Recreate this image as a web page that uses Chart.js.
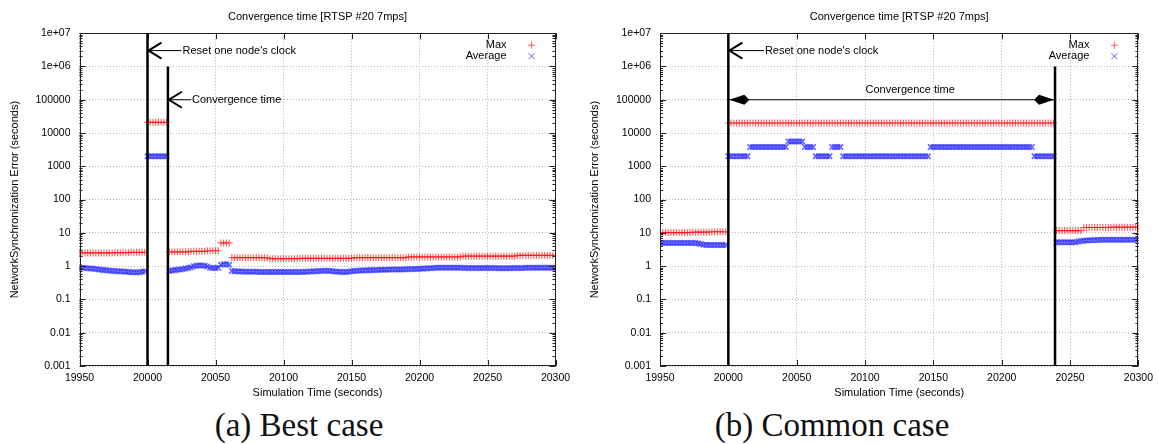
<!DOCTYPE html>
<html>
<head>
<meta charset="utf-8">
<script src="https://cdn.jsdelivr.net/npm/chart.js@4/dist/chart.umd.min.js"></script>
<style>
  body { margin: 0; background: #fff; width: 1159px; height: 444px; overflow: hidden; position: relative; }
  .panel { position: absolute; top: 0; height: 400px; }
  .caption { position: absolute; top: 407px; width: 320px; font-family: "Liberation Serif", serif; font-size: 33px; line-height: 1.15; text-align: center; color: #111; white-space: nowrap; }
</style>
</head>
<body>
<div class="panel" style="left:0;width:580px"><canvas id="bestChart"></canvas></div>
<div class="panel" style="left:580px;width:579px"><canvas id="commonChart"></canvas></div>
<div class="caption" style="left:139px">(a) Best case</div>
<div class="caption" style="left:672px">(b) Common case</div>
<script>
// sample times (s), one row = 50 s
const sampleTimes = [
  19950,19952,19954,19956,19958,19960,19962,19964,19966,19968,19970,19972,19974,19976,19978,19980,19982,19984,19986,19988,19990,19992,19994,19996,19998,
  20000,20002,20004,20006,20008,20010,20012,20014,20016,20018,20020,20022,20024,20026,20028,20030,20032,20034,20036,20038,20040,20042,20044,20046,20048,
  20050,20052,20054,20056,20058,20060,20062,20064,20066,20068,20070,20072,20074,20076,20078,20080,20082,20084,20086,20088,20090,20092,20094,20096,20098,
  20100,20102,20104,20106,20108,20110,20112,20114,20116,20118,20120,20122,20124,20126,20128,20130,20132,20134,20136,20138,20140,20142,20144,20146,20148,
  20150,20152,20154,20156,20158,20160,20162,20164,20166,20168,20170,20172,20174,20176,20178,20180,20182,20184,20186,20188,20190,20192,20194,20196,20198,
  20200,20202,20204,20206,20208,20210,20212,20214,20216,20218,20220,20222,20224,20226,20228,20230,20232,20234,20236,20238,20240,20242,20244,20246,20248,
  20250,20252,20254,20256,20258,20260,20262,20264,20266,20268,20270,20272,20274,20276,20278,20280,20282,20284,20286,20288,20290,20292,20294,20296,20298,
  20300
];

// (a) best case
const bestMax = [
  2.5,2.5,2.5,2.5,2.5,2.5,2.5,2.5,2.5,2.5,2.5,2.5,2.5,2.55,2.55,2.55,2.55,2.55,2.55,2.6,2.6,2.6,2.6,2.6,2.6,
  21000,21000,21000,21000,21000,21000,21000,21000,2.7,2.7,2.7,2.7,2.7,2.7,2.7,2.7,2.8,2.8,2.8,2.8,2.8,2.8,2.9,2.9,2.9,
  2.9,2.9,5,5,5,5,1.8,1.8,1.8,1.8,1.8,1.8,1.8,1.8,1.8,1.8,1.8,1.8,1.8,1.8,1.68,1.68,1.68,1.68,1.68,
  1.68,1.68,1.68,1.68,1.68,1.68,1.72,1.72,1.72,1.72,1.72,1.72,1.72,1.72,1.72,1.72,1.72,1.72,1.72,1.72,1.72,1.72,1.72,1.72,1.72,
  1.72,1.8,1.8,1.8,1.8,1.8,1.8,1.8,1.8,1.8,1.8,1.8,1.8,1.8,1.8,1.8,1.8,1.8,1.8,1.8,1.8,1.9,1.9,1.9,1.9,
  1.9,1.9,1.9,1.9,1.9,1.9,1.9,1.9,1.9,1.9,1.9,1.9,1.9,1.9,1.9,1.9,2.0,2.0,2.0,2.0,2.0,2.0,2.0,2.0,2.0,
  2.0,2.0,2.0,2.0,2.0,2.0,2.0,2.0,2.0,2.0,2.0,2.1,2.1,2.1,2.1,2.1,2.1,2.1,2.1,2.1,2.1,2.1,2.1,2.1,2.1,
  2.1
];
const bestAvg = [
  0.92,0.9,0.88,0.86,0.85,0.84,0.82,0.8,0.78,0.76,0.75,0.74,0.72,0.72,0.7,0.7,0.69,0.68,0.67,0.66,0.66,0.65,0.66,0.68,0.7,
  2000,2000,2000,2000,2000,2000,2000,2000,0.72,0.74,0.76,0.78,0.8,0.82,0.85,0.88,0.92,1.0,1.03,1.05,1.05,1.03,0.98,0.9,0.88,
  0.88,0.9,1.1,1.15,1.15,1.1,0.72,0.7,0.7,0.69,0.69,0.68,0.68,0.68,0.68,0.68,0.67,0.67,0.67,0.67,0.67,0.67,0.67,0.67,0.67,
  0.67,0.67,0.67,0.67,0.67,0.67,0.67,0.67,0.68,0.68,0.69,0.7,0.7,0.71,0.72,0.73,0.73,0.72,0.7,0.69,0.68,0.67,0.67,0.67,0.68,
  0.7,0.72,0.73,0.74,0.74,0.75,0.75,0.76,0.76,0.77,0.77,0.78,0.78,0.78,0.79,0.79,0.8,0.8,0.8,0.8,0.81,0.81,0.82,0.82,0.82,
  0.83,0.84,0.85,0.86,0.87,0.88,0.9,0.9,0.9,0.9,0.9,0.9,0.9,0.9,0.89,0.89,0.89,0.88,0.88,0.88,0.88,0.88,0.88,0.88,0.88,
  0.88,0.88,0.88,0.88,0.87,0.87,0.87,0.87,0.87,0.88,0.88,0.88,0.88,0.88,0.89,0.89,0.89,0.9,0.9,0.9,0.9,0.9,0.9,0.9,0.9,
  0.9
];

// (b) common case
const commonMax = [
  10.2,10.2,10.2,10.2,10.2,10.2,10.2,10.2,10.2,10.2,10.2,10.2,10.5,10.5,10.5,10.5,10.5,10.5,10.5,10.8,10.8,10.8,10.8,10.8,10.8,
  20000,20000,20000,20000,20000,20000,20000,20000,20000,20000,20000,20000,20000,20000,20000,20000,20000,20000,20000,20000,20000,20000,20000,20000,20000,
  20000,20000,20000,20000,20000,20000,20000,20000,20000,20000,20000,20000,20000,20000,20000,20000,20000,20000,20000,20000,20000,20000,20000,20000,20000,
  20000,20000,20000,20000,20000,20000,20000,20000,20000,20000,20000,20000,20000,20000,20000,20000,20000,20000,20000,20000,20000,20000,20000,20000,20000,
  20000,20000,20000,20000,20000,20000,20000,20000,20000,20000,20000,20000,20000,20000,20000,20000,20000,20000,20000,20000,20000,20000,20000,20000,20000,
  20000,20000,20000,20000,20000,20000,20000,20000,20000,20000,20000,20000,20000,20000,20000,20000,20000,20000,20000,20000,11.7,11.7,11.7,11.7,11.7,
  11.7,11.7,11.7,11.7,11.7,14.5,14.5,14.5,14.5,14.5,14.5,14.5,14.5,14.5,14.5,14.8,14.8,14.8,14.8,14.8,14.8,14.8,14.8,14.8,14.8,
  14.8
];
const commonAvg = [
  5.0,5.0,5.0,5.0,5.0,5.0,5.0,5.0,5.0,5.0,5.0,5.0,5.0,5.0,4.8,4.6,4.4,4.3,4.3,4.3,4.3,4.3,4.3,4.3,4.3,
  2000,2000,2000,2000,2000,2000,2000,2000,3800,3800,3800,3800,3800,3800,3800,3800,3800,3800,3800,3800,3800,3800,5600,5600,5600,
  5600,5600,5600,3800,3800,3800,3800,2000,2000,2000,2000,2000,2000,3800,3800,3800,3800,2000,2000,2000,2000,2000,2000,2000,2000,
  2000,2000,2000,2000,2000,2000,2000,2000,2000,2000,2000,2000,2000,2000,2000,2000,2000,2000,2000,2000,2000,2000,2000,2000,3800,
  3800,3800,3800,3800,3800,3800,3800,3800,3800,3800,3800,3800,3800,3800,3800,3800,3800,3800,3800,3800,3800,3800,3800,3800,3800,
  3800,3800,3800,3800,3800,3800,3800,3800,3800,3800,3800,3800,2000,2000,2000,2000,2000,2000,2000,2000,5.2,5.2,5.2,5.2,5.2,
  5.2,5.2,5.2,5.5,5.7,5.8,5.9,6.0,6.0,6.1,6.1,6.2,6.2,6.2,6.2,6.2,6.2,6.2,6.2,6.2,6.2,6.2,6.2,6.2,6.2,
  6.2
];

const xTickValues = [19950, 20000, 20050, 20100, 20150, 20200, 20250, 20300];
const yTickValues = [0.001, 0.01, 0.1, 1, 10, 100, 1000, 10000, 100000, 1e6, 1e7];
const yTickLabels = ['0.001', '0.01', '0.1', '1', '10', '100', '1000', '10000', '100000', '1e+06', '1e+07'];

const resetTime = 20000;
const bestConvergedTime = 20015;
const commonConvergedTime = 20239;

const FONT = '"Liberation Sans", Arial, sans-serif';
Chart.defaults.font.family = FONT;
Chart.defaults.color = '#000';

const MAX_COLOR = 'rgba(255,0,0,0.6)';
const AVG_COLOR = 'rgba(30,30,255,0.7)';

// gnuplot-ish frame, inward ticks, legend and the annotation lines/arrows
const gnuplotFrame = {
  id: 'gnuplotFrame',
  afterDatasetsDraw(chart, args, opts) {
    const { ctx, chartArea: a, scales: { x, y } } = chart;
    ctx.save();

    ctx.strokeStyle = '#222';
    ctx.lineWidth = 1;
    ctx.strokeRect(Math.round(a.left) + 0.5, Math.round(a.top) + 0.5, Math.round(a.width) - 1, Math.round(a.height) - 1);

    ctx.beginPath();
    xTickValues.forEach(v => {
      const px = Math.round(x.getPixelForValue(v)) + 0.5;
      ctx.moveTo(px, a.bottom); ctx.lineTo(px, a.bottom - 6);
      ctx.moveTo(px, a.top); ctx.lineTo(px, a.top + 6);
    });
    yTickValues.forEach((v, i) => {
      const py = Math.round(y.getPixelForValue(v)) + 0.5;
      ctx.moveTo(a.left, py); ctx.lineTo(a.left + 6, py);
      ctx.moveTo(a.right, py); ctx.lineTo(a.right - 6, py);
      if (i < yTickValues.length - 1) {
        for (let m = 2; m <= 9; m++) {
          const pm = Math.round(y.getPixelForValue(v * m)) + 0.5;
          ctx.moveTo(a.left, pm); ctx.lineTo(a.left + 3, pm);
          ctx.moveTo(a.right, pm); ctx.lineTo(a.right - 3, pm);
        }
      }
    });
    ctx.stroke();

    // legend
    ctx.font = '11px ' + FONT;
    ctx.fillStyle = '#000';
    ctx.textAlign = 'right';
    ctx.textBaseline = 'middle';
    const lx = a.right - 49, mx = a.right - 24;
    ctx.fillText('Max', lx, a.top + 12);
    ctx.fillText('Average', lx, a.top + 23);
    ctx.lineWidth = 1;
    ctx.strokeStyle = MAX_COLOR;
    ctx.beginPath();
    ctx.moveTo(mx - 3.5, a.top + 12); ctx.lineTo(mx + 3.5, a.top + 12);
    ctx.moveTo(mx, a.top + 8.5); ctx.lineTo(mx, a.top + 15.5);
    ctx.stroke();
    ctx.strokeStyle = AVG_COLOR;
    ctx.beginPath();
    ctx.moveTo(mx - 3, a.top + 20); ctx.lineTo(mx + 3, a.top + 26);
    ctx.moveTo(mx + 3, a.top + 20); ctx.lineTo(mx - 3, a.top + 26);
    ctx.stroke();

    // vertical event lines
    ctx.strokeStyle = '#000';
    ctx.lineWidth = 2.5;
    (opts.lines || []).forEach(l => {
      const px = x.getPixelForValue(l.t);
      ctx.beginPath();
      ctx.moveTo(px, y.getPixelForValue(l.top));
      ctx.lineTo(px, a.bottom);
      ctx.stroke();
    });

    // open-headed arrows with a label at the tail
    (opts.arrows || []).forEach(ar => {
      const tip = x.getPixelForValue(ar.to) + 1;
      const tail = x.getPixelForValue(ar.from);
      const py = y.getPixelForValue(ar.y);
      ctx.lineWidth = 1;
      ctx.beginPath();
      ctx.moveTo(tail, py); ctx.lineTo(tip, py);
      ctx.stroke();
      ctx.lineWidth = 2;
      ctx.beginPath();
      ctx.moveTo(tip + 13, py - 8); ctx.lineTo(tip, py); ctx.lineTo(tip + 13, py + 8);
      ctx.stroke();
      ctx.textAlign = 'left';
      ctx.fillText(ar.text, tail + 1, py);
    });

    // double arrow with filled heads
    if (opts.span) {
      const s = opts.span;
      const x0 = x.getPixelForValue(s.from) + 1;
      const x1 = x.getPixelForValue(s.to) - 1;
      const py = y.getPixelForValue(s.y);
      ctx.lineWidth = 1;
      ctx.beginPath();
      ctx.moveTo(x0, py); ctx.lineTo(x1, py);
      ctx.stroke();
      const head = (tx, dir) => {
        ctx.beginPath();
        ctx.moveTo(tx, py);
        ctx.lineTo(tx + dir * 15, py - 5);
        ctx.lineTo(tx + dir * 20, py);
        ctx.lineTo(tx + dir * 15, py + 5);
        ctx.closePath();
        ctx.fill();
      };
      head(x0, 1);
      head(x1, -1);
      ctx.textAlign = 'center';
      ctx.fillText(s.text, x.getPixelForValue(s.labelT), py - 10);
    }
    ctx.restore();
  }
};

function makeChart(id, maxData, avgData, plotLeft, padRight, notes) {
  return new Chart(document.getElementById(id), {
    type: 'scatter',
    data: {
      datasets: [
        {
          label: 'Max',
          data: sampleTimes.map((t, i) => ({ x: t, y: maxData[i] })),
          pointStyle: 'cross',
          pointRadius: 3.5,
          borderColor: MAX_COLOR,
          backgroundColor: MAX_COLOR,
          borderWidth: 1.2
        },
        {
          label: 'Average',
          data: sampleTimes.map((t, i) => ({ x: t, y: avgData[i] })),
          pointStyle: 'crossRot',
          pointRadius: 3.8,
          borderColor: AVG_COLOR,
          backgroundColor: AVG_COLOR,
          borderWidth: 1.6
        }
      ]
    },
    options: {
      responsive: true,
      maintainAspectRatio: false,
      animation: false,
      events: [],
      layout: { padding: { left: 0, right: padRight, top: 0, bottom: 0 } },
      plugins: {
        legend: { display: false },
        tooltip: { enabled: false },
        title: {
          display: true,
          fullSize: false,
          text: 'Convergence time [RTSP #20 7mps]',
          color: '#000',
          font: { size: 11, weight: 'normal' },
          padding: { top: 10, bottom: 10 }
        },
        gnuplotFrame: notes
      },
      scales: {
        x: {
          type: 'linear',
          min: 19950,
          max: 20300,
          afterBuildTicks: s => { s.ticks = xTickValues.map(v => ({ value: v })); },
          afterFit: s => { s.height = 34; },
          ticks: { callback: v => String(v), font: { size: 10.5 }, padding: 6, maxRotation: 0, autoSkip: false },
          grid: { color: '#b4b4b4', drawTicks: false, lineWidth: 1 },
          border: { display: false, dash: [1, 2] },
          title: { display: true, text: 'Simulation Time (seconds)', font: { size: 11 }, padding: 0 }
        },
        y: {
          type: 'logarithmic',
          min: 0.001,
          max: 1e7,
          afterBuildTicks: s => { s.ticks = yTickValues.map(v => ({ value: v })); },
          afterFit: s => { s.width = plotLeft; },
          ticks: { callback: (v, i) => yTickLabels[i], font: { size: 10.5 }, padding: 9, autoSkip: false },
          grid: { color: '#b4b4b4', drawTicks: false, lineWidth: 1 },
          border: { display: false, dash: [1, 2] },
          title: { display: true, text: 'NetworkSynchronization Error (seconds)', font: { size: 11 }, padding: { top: 8, bottom: 0 } }
        }
      }
    },
    plugins: [gnuplotFrame]
  });
}

makeChart('bestChart', bestMax, bestAvg, 79.5, 24.5, {
  lines: [{ t: resetTime, top: 1e7 }, { t: bestConvergedTime, top: 1e6 }],
  arrows: [
    { from: 20025, to: resetTime, y: 3e6, text: "Reset one node's clock" },
    { from: 20032, to: bestConvergedTime, y: 1e5, text: 'Convergence time' }
  ]
});

makeChart('commonChart', commonMax, commonAvg, 80, 20, {
  lines: [{ t: resetTime, top: 1e7 }, { t: commonConvergedTime, top: 1e6 }],
  arrows: [
    { from: 20026, to: resetTime, y: 3e6, text: "Reset one node's clock" }
  ],
  span: { from: resetTime, to: commonConvergedTime, y: 1e5, text: 'Convergence time', labelT: 20133 }
});
</script>
</body>
</html>
